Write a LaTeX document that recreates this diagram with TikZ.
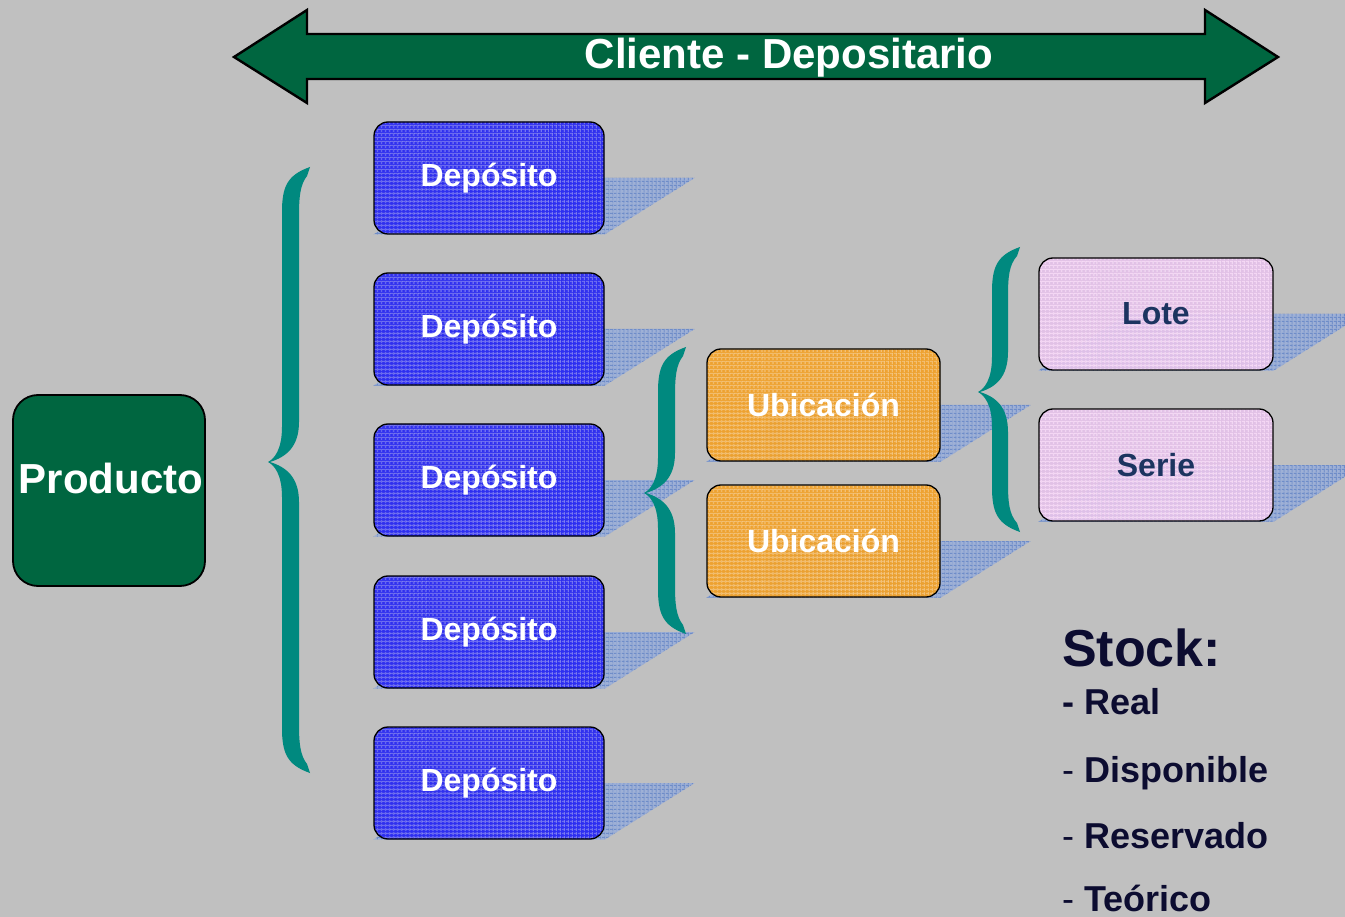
\documentclass[tikz,border=0pt]{standalone}
\usepackage{fontspec}
\setmainfont{Liberation Sans}
\usetikzlibrary{patterns.meta,calc}
\definecolor{bggray}{HTML}{C0C0C0}
\definecolor{darkgreen}{HTML}{006640}
\definecolor{teal2}{HTML}{00897F}
\definecolor{depblue}{HTML}{2424F4}
\definecolor{depgrid}{HTML}{6A6AEE}
\definecolor{ubiorange}{HTML}{F2A024}
\definecolor{ubigrid}{HTML}{F2BC6C}
\definecolor{lotepink}{HTML}{E4C2EA}
\definecolor{lotegrid}{HTML}{F4D6F4}
\definecolor{navytext}{HTML}{1C3460}
\definecolor{stocktext}{HTML}{0C0C30}
\definecolor{shadowblue}{HTML}{9EB0D6}
\definecolor{shadowgrid}{HTML}{6E8CC8}
\pgfdeclarelayer{back}
\pgfdeclarelayer{shade}
\pgfsetlayers{back,shade,main}
\newcommand\bracefill[5]{% xb, w, yt, ym, yb
  \fill[teal2] ({#1+28},#3) .. controls ({#1+5},{#3+8}) and (#1,{#3+20}) .. (#1,{#3+45})
    -- (#1,{#4-35}) .. controls (#1,{#4-12}) and ({#1-8},{#4-3}) .. ({#1-14},#4)
    .. controls ({#1-8},{#4+3}) and (#1,{#4+12}) .. (#1,{#4+35})
    -- (#1,{#5-45}) .. controls (#1,{#5-20}) and ({#1+5},{#5-8}) .. ({#1+28},#5)
    -- ({#1+25},{#5-9}) .. controls ({#1+#2+1},{#5-18}) and ({#1+#2},{#5-30}) .. ({#1+#2},{#5-50})
    -- ({#1+#2},{#4+40}) .. controls ({#1+#2},{#4+15}) and ({#1+4},{#4+5}) .. ({#1-12},#4)
    .. controls ({#1+4},{#4-5}) and ({#1+#2},{#4-15}) .. ({#1+#2},{#4-40})
    -- ({#1+#2},{#3+50}) .. controls ({#1+#2},{#3+30}) and ({#1+#2+1},{#3+18}) .. ({#1+25},{#3+9})
    -- cycle;}
\newcommand\boxshadow[1]{%
  \begin{pgfonlayer}{shade}
  \path[fill=shadowblue, postaction={pattern={Lines[angle=0,distance=4pt,line width=1pt]}, pattern color=shadowgrid}, postaction={pattern={Lines[angle=90,distance=4pt,line width=1pt]}, pattern color=shadowgrid}] (#1.south west) -- (#1.south east) -- ($(#1.east)+(90,0)$) -- ($(#1.west)+(90,0)$) -- cycle;
  \end{pgfonlayer}}
\tikzset{
  basebox/.style={rectangle, rounded corners=14, draw=black, line width=1.3, minimum width=230, minimum height=112, inner sep=0, font=\bfseries\fontsize{32}{38}\selectfont},
  gridbox/.style 2 args={preaction={fill=#1, fill opacity=0.92}, preaction={pattern={Lines[angle=0,distance=4pt,line width=1pt]}, pattern color=#2}, pattern={Lines[angle=90,distance=4pt,line width=1pt]}, pattern color=#2},
  depbox/.style={basebox, gridbox={depblue}{depgrid}, text=white},
  ubibox/.style={basebox, minimum width=233, gridbox={ubiorange}{ubigrid}, text=white},
  lotebox/.style={basebox, minimum width=234, gridbox={lotepink}{lotegrid}, text=navytext},
  prodbox/.style={rectangle, rounded corners=25, draw=black, line width=1.8, fill=darkgreen, minimum width=192, minimum height=191, inner sep=0, text=white, font=\bfseries\fontsize{42}{48}\selectfont},
  stocktxt/.style={anchor=base west, inner sep=0, text=stocktext, font=\bfseries\fontsize{36}{40}\selectfont},
}
\begin{document}
\begin{tikzpicture}[x=1pt,y=-1pt]
\useasboundingbox (0,0) rectangle (1345,917);
\begin{pgfonlayer}{back}
\fill[bggray] (0,0) rectangle (1345,917);
\end{pgfonlayer}
\clip (0,0) rectangle (1345,917);
% double arrow
\draw[fill=darkgreen, line width=2.4, line join=miter] (234,57) -- (307,10) -- (307,34) -- (1205,34) -- (1205,10) -- (1278,57) -- (1205,103) -- (1205,79) -- (307,79) -- (307,103) -- cycle;
\node[text=white, font=\bfseries\fontsize{42}{46}\selectfont, inner sep=0] (cd) at (789,58) {Cliente - Depositario};
% product
\node[prodbox] (prod) at (109,490.5) {};
\node[text=white, font=\bfseries\fontsize{42}{48}\selectfont, inner sep=0] (prodt) at (111,478) {Producto};
% depositos
\node[depbox] (d1) at (489,178) {Depósito};
\node[depbox] (d2) at (489,329) {Depósito};
\node[depbox] (d3) at (489,480) {Depósito};
\node[depbox] (d4) at (489,632) {Depósito};
\node[depbox] (d5) at (489,783) {Depósito};
% ubicaciones
\node[ubibox] (u1) at (823.5,405) {Ubicación};
\node[ubibox] (u2) at (823.5,541) {Ubicación};
% lote serie
\node[lotebox] (l1) at (1156,314) {Lote};
\node[lotebox] (s1) at (1156,465) {Serie};
\boxshadow{d1}\boxshadow{d2}\boxshadow{d3}\boxshadow{d4}\boxshadow{d5}
\boxshadow{u1}\boxshadow{u2}\boxshadow{l1}\boxshadow{s1}
% braces
\bracefill{282}{17}{167}{462}{773}
\bracefill{658}{17}{347}{493}{634}
\bracefill{992}{16}{247}{392}{532}
% stock
\node[stocktxt, font=\bfseries\fontsize{52}{56}\selectfont] (st) at (1062,666) {Stock:};
\node[stocktxt] (s1t) at (1062,714) {- Real};
\node[stocktxt] (s2t) at (1062,782) {\mdseries-\bfseries{} Disponible};
\node[stocktxt] (s3t) at (1062,848) {\mdseries-\bfseries{} Reservado};
\node[stocktxt] (s4t) at (1062,911) {\mdseries-\bfseries{} Teórico};
\end{tikzpicture}
\end{document}
